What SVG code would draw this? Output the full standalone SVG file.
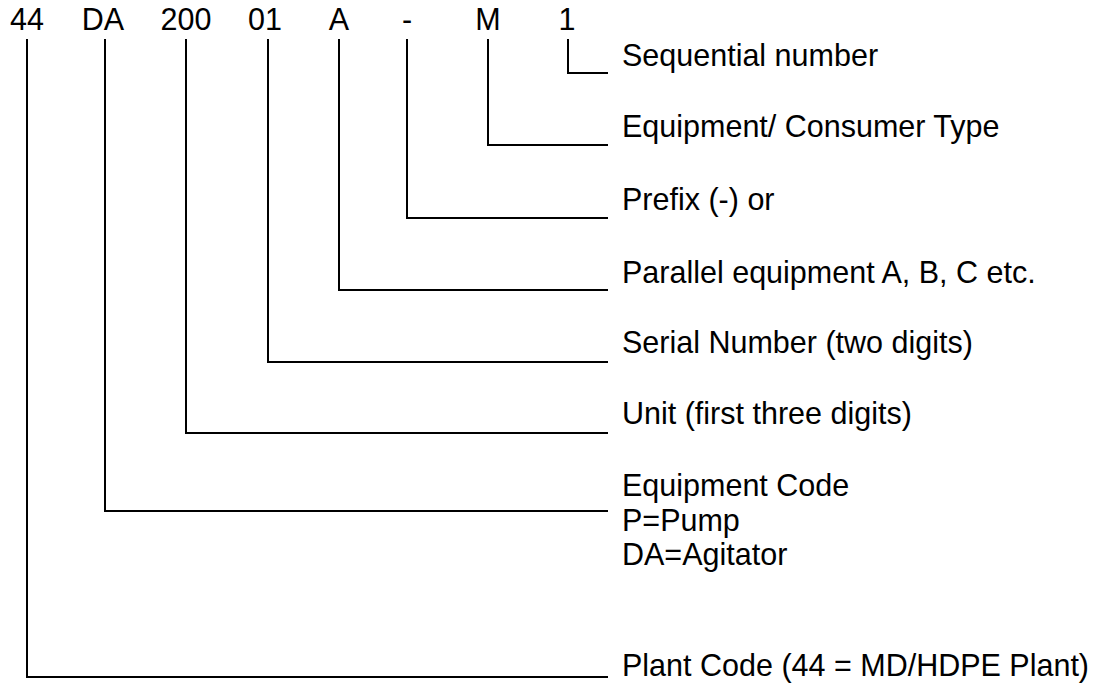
<svg xmlns="http://www.w3.org/2000/svg" width="1096" height="685" viewBox="0 0 1096 685">
<style>
text{font-family:"Liberation Sans",Arial,sans-serif;font-size:30.5px;fill:#000}
.code{text-anchor:middle}
.ln{fill:none;stroke:#000;stroke-width:2}
</style>
<rect width="1096" height="685" fill="#fff"/>
<g id="code">
<text class="code" x="27" y="30">44</text>
<text class="code" x="103" y="30">DA</text>
<text class="code" x="186" y="30">200</text>
<text class="code" x="265" y="30">01</text>
<text class="code" x="339" y="30">A</text>
<text class="code" x="407" y="30">-</text>
<text class="code" x="488" y="30">M</text>
<text class="code" x="567" y="30">1</text>
</g>
<g id="connectors">
<polyline class="ln" points="568,39 568,73 608,73"/>
<polyline class="ln" points="488,39 488,145 608,145"/>
<polyline class="ln" points="407,39 407,218 608,218"/>
<polyline class="ln" points="339,39 339,290 608,290"/>
<polyline class="ln" points="268,39 268,362 608,362"/>
<polyline class="ln" points="186,39 186,433 608,433"/>
<polyline class="ln" points="105,39 105,511 608,511"/>
<polyline class="ln" points="27,39 27,677 608,677"/>
</g>
<g id="label-sequential"><text x="622" y="66">Sequential number</text></g>
<g id="label-type"><text x="622" y="137">Equipment/ Consumer Type</text></g>
<g id="label-prefix"><text x="622" y="210">Prefix (-) or</text></g>
<g id="label-parallel"><text x="622" y="283">Parallel equipment A, B, C etc.</text></g>
<g id="label-serial"><text x="622" y="353">Serial Number (two digits)</text></g>
<g id="label-unit"><text x="622" y="424">Unit (first three digits)</text></g>
<g id="label-equipment"><text x="622" y="496">Equipment Code</text><text x="622" y="531">P=Pump</text><text x="622" y="565">DA=Agitator</text></g>
<g id="label-plant"><text x="622" y="676">Plant Code (44 = MD/HDPE Plant)</text></g>
</svg>
